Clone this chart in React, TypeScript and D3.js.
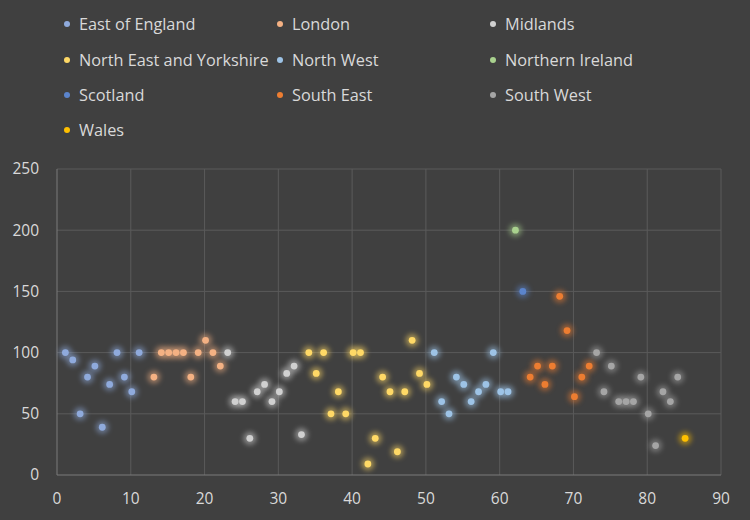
import { useEffect, useRef } from 'react'
import * as d3 from 'd3'

const regions = [
  'East of England', 'London', 'Midlands',
  'North East and Yorkshire', 'North West', 'Northern Ireland',
  'Scotland', 'South East', 'South West',
  'Wales',
]

const colors = [
  '#8faadc', '#f4b183', '#d0d0d0',
  '#ffd966', '#9dc3e6', '#a9d18e',
  '#5b84cc', '#ed7d31', '#a5a5a5',
  '#ffc000',
]

// [x, y] pairs per region
const eastOfEngland = [[1, 100], [2, 94], [3, 50], [4, 80], [5, 89], [6, 39], [7, 74], [8, 100], [9, 80], [10, 68], [11, 100]]
const london = [[13, 80], [14, 100], [15, 100], [16, 100], [17, 100], [18, 80], [19, 100], [20, 110], [21, 100], [22, 89]]
const midlands = [[23, 100], [24, 60], [25, 60], [26, 30], [27, 68], [28, 74], [29, 60], [30, 68], [31, 83], [32, 89], [33, 33]]
const northEastYorkshire = [[34, 100], [35, 83], [36, 100], [37, 50], [38, 68], [39, 50], [40, 100], [41, 100], [42, 9], [43, 30], [44, 80], [45, 68], [46, 19], [47, 68], [48, 110], [49, 83], [50, 74]]
const northWest = [[51, 100], [52, 60], [53, 50], [54, 80], [55, 74], [56, 60], [57, 68], [58, 74], [59, 100], [60, 68], [61, 68]]
const northernIreland = [[62, 200]]
const scotland = [[63, 150]]
const southEast = [[64, 80], [65, 89], [66, 74], [67, 89], [68, 146], [69, 118], [70, 64], [71, 80], [72, 89]]
const southWest = [[73, 100], [74, 68], [75, 89], [76, 60], [77, 60], [78, 60], [79, 80], [80, 50], [81, 24], [82, 68], [83, 60], [84, 80]]
const wales = [[85, 30]]

const series = [eastOfEngland, london, midlands, northEastYorkshire, northWest, northernIreland, scotland, southEast, southWest, wales]

const xTicks = [0, 10, 20, 30, 40, 50, 60, 70, 80, 90]
const yTicks = [0, 50, 100, 150, 200, 250]

export default function App() {
  const svgRef = useRef<SVGSVGElement>(null)

  useEffect(() => {
    if (!svgRef.current) return
    const svg = d3.select(svgRef.current)
    svg.selectAll('*').remove()

    const width = 750
    const height = 520
    const font = "'Open Sans', 'Noto Sans', sans-serif"
    const textColor = '#d9d9d9'

    svg.append('rect').attr('width', width).attr('height', height).attr('fill', '#404040')

    const defs = svg.append('defs')
    defs.append('filter').attr('id', 'glow')
      .attr('x', '-100%').attr('y', '-100%').attr('width', '300%').attr('height', '300%')
      .append('feGaussianBlur').attr('stdDeviation', 2.8)

    const x = d3.scaleLinear().domain([0, 90]).range([57, 721])
    const y = d3.scaleLinear().domain([0, 250]).range([475, 169])

    // grid
    const grid = svg.append('g')
    grid.selectAll('line.v').data(xTicks.slice(1)).join('line')
      .attr('x1', d => x(d)).attr('x2', d => x(d))
      .attr('y1', y(0)).attr('y2', y(250))
      .attr('stroke', '#5a5a5a').attr('stroke-width', 1)
    grid.selectAll('line.h').data(yTicks.slice(1)).join('line')
      .attr('x1', x(0)).attr('x2', x(90))
      .attr('y1', d => y(d)).attr('y2', d => y(d))
      .attr('stroke', '#5a5a5a').attr('stroke-width', 1)

    // axis lines
    svg.append('line').attr('x1', x(0)).attr('x2', x(0)).attr('y1', y(0)).attr('y2', y(250))
      .attr('stroke', '#7a7a7a').attr('stroke-width', 1)
    svg.append('line').attr('x1', x(0)).attr('x2', x(90)).attr('y1', y(0)).attr('y2', y(0))
      .attr('stroke', '#7a7a7a').attr('stroke-width', 1)

    // tick labels
    svg.append('g').selectAll('text').data(yTicks).join('text')
      .attr('x', 39).attr('y', d => y(d)).attr('dy', '0.35em')
      .attr('text-anchor', 'end')
      .attr('font-family', font).attr('font-size', 15.5).attr('fill', textColor)
      .text(d => d)
    svg.append('g').selectAll('text').data(xTicks).join('text')
      .attr('x', d => x(d)).attr('y', 499).attr('dy', '0.35em')
      .attr('text-anchor', 'middle')
      .attr('font-family', font).attr('font-size', 15.5).attr('fill', textColor)
      .text(d => d)

    // points
    series.forEach((pts, i) => {
      const g = svg.append('g')
      g.selectAll('circle.glow').data(pts).join('circle')
        .attr('cx', d => x(d[0]) + 1).attr('cy', d => y(d[1])).attr('r', 6.5)
        .attr('fill', colors[i]).attr('opacity', 0.5)
        .attr('filter', 'url(#glow)')
      g.selectAll('circle.dot').data(pts).join('circle')
        .attr('cx', d => x(d[0]) + 1).attr('cy', d => y(d[1])).attr('r', 3.4)
        .attr('fill', colors[i])
    })

    // legend
    const colX = [67, 280, 493]
    const rowY = [24, 60, 95, 130]
    const legend = svg.append('g')
    regions.forEach((name, i) => {
      const cx = colX[i % 3]
      const cy = rowY[Math.floor(i / 3)]
      legend.append('circle').attr('cx', cx).attr('cy', cy).attr('r', 3)
        .attr('fill', colors[i])
      legend.append('text').attr('x', cx + 12).attr('y', cy).attr('dy', '0.35em')
        .attr('font-family', font).attr('font-size', 16.3).attr('fill', textColor)
        .text(name)
    })
  }, [])

  return (
    <svg ref={svgRef} width={750} height={520}
      style={{ position: 'absolute', left: 0, top: 0, display: 'block' }} />
  )
}
